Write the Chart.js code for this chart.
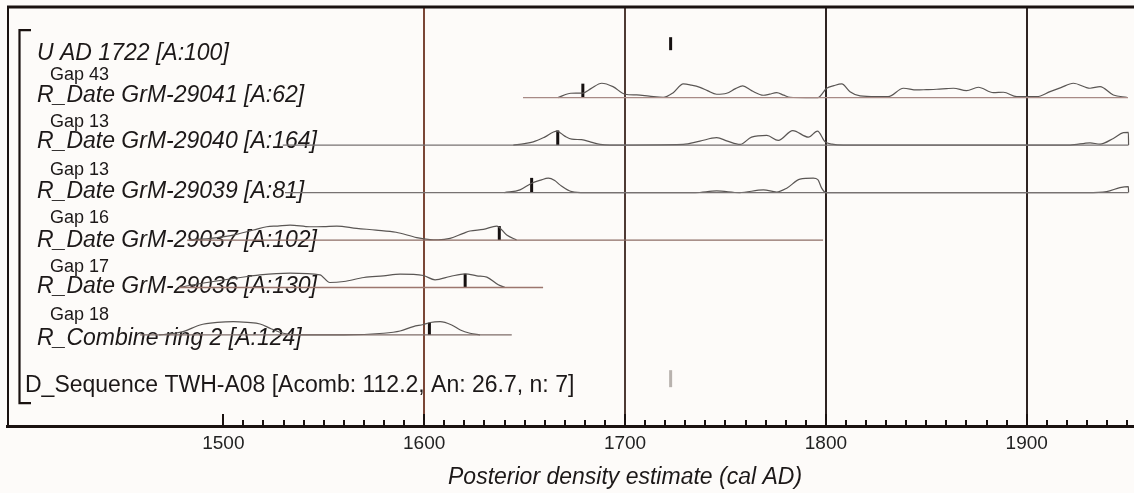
<!DOCTYPE html>
<html><head><meta charset="utf-8">
<script src="https://cdn.jsdelivr.net/npm/chart.js@4.4.1/dist/chart.umd.min.js"></script>
<style>html,body{margin:0;padding:0;background:#fdfbf9;}canvas{display:block;}</style>
</head><body>
<canvas id="c" width="1134" height="493"></canvas>
<script>
// ---------- data ----------
const rowLabels = ["U AD 1722 [A:100]", "R_Date GrM-29041 [A:62]", "R_Date GrM-29040 [A:164]",
  "R_Date GrM-29039 [A:81]", "R_Date GrM-29037 [A:102]", "R_Date GrM-29036 [A:130]",
  "R_Combine ring 2 [A:124]", "D_Sequence TWH-A08 [Acomb: 112.2, An: 26.7, n: 7]"];
const gapLabels = ["Gap 43", "Gap 13", "Gap 13", "Gap 16", "Gap 17", "Gap 18"];
const tickLabels = [1500, 1600, 1700, 1800, 1900];
const axisTitle = "Posterior density estimate (cal AD)";
const rowIndex = [0, 1, 2, 3, 4, 5, 6, 7.1];
const medianYears = [1722.7, 1679, 1666.5, 1653.5, 1637.4, 1620.4, 1602.6, 1722.7];
const markerHeights = [13, 14, 14.7, 14.7, 14, 13.7, 12.3, 17];
const rangeStart = [null, 1649.2, 1529.6, 1530.7, 1482, 1478, 1458.6, null];
const rangeEnd   = [null, 1950.4, 1950.6, 1950.6, 1798.6, 1659.2, 1643.6, null];

const years29041 = [1666.6,1673,1679,1683,1688.4,1694,1700,1705.8,1712,1719,1724,1729,1733,1737.3,1741,1745.6,1750.6,1755,1758.6,1763,1768.9,1772,1775.5,1779,1782.2,1790,1796,1800.4,1804,1807.9,1812,1817,1825,1831,1838.6,1845.2,1850,1855.2,1860,1863.5,1870,1875.9,1883.4,1888.4,1895,1905,1911.6,1917,1923.2,1931.5,1936.5,1943.1,1949.8];
const dens29041  = [0,4.4,4.6,9,14.4,11,3.4,2.7,1.5,0.3,5,13.7,12.5,10.3,7,3.4,4.4,9,11.7,7,2.4,3.5,5,2.5,0.4,0,0,9.4,12,13.7,6,1.7,1,1,9.4,7.7,8,8.4,9,9.4,7,10.4,5,5.4,1,1,6,10,14.4,9.4,11,2.7,0.3];
const years29040 = [1644.4,1650,1654.3,1660,1666,1670,1673.5,1678.4,1683,1687.6,1692.5,1729,1737.3,1745.6,1751,1757.3,1763,1770.6,1776.3,1783.5,1791.3,1795.8,1799.6,1803,1808.7,1921.6,1931.5,1936.5,1943.1,1948.1,1950.6,1950.7];
const dens29040  = [0,1.5,3.3,8,14,9,6,5.4,3,0.7,0,0.7,4,7.4,4,0.7,8,9.7,4.7,14.5,8,14,3.3,1,0,0,2.3,1,6.7,12.4,12.7,0];
const years29039 = [1640,1647.7,1653.5,1658,1661.8,1665,1667.6,1673.5,1680,1735,1745.6,1757,1768.9,1775.5,1780.5,1787.1,1793.7,1796,1797.9,1799.9,1930,1939.8,1946.4,1950.6,1950.7];
const dens29039  = [0,2.7,9.4,12.5,14.4,12,7.7,1,0,0,1.7,0,2.7,0.6,4.4,13.4,14.4,13,4.4,0,0,1,5,6,0];
const years29037 = [1483,1495,1505,1515,1521.6,1527,1533.2,1543.2,1550,1556.5,1566.4,1576,1586,1596.3,1602.9,1607,1612.9,1619.5,1622.8,1629.5,1636.1,1641.1,1646];
const dens29037  = [0,2,5,10,13.3,14,15,13.3,13.5,14,11.7,10,7.8,2.5,0.5,0.3,1.7,6.7,9,10.7,14,5,0];
const years29036 = [1478,1486,1495,1505,1512,1518.3,1533.2,1548.1,1553,1560,1570,1579.7,1588,1599.6,1605.4,1612.9,1620.4,1626.2,1631.2,1636.9,1640.3];
const dens29036  = [0,3,6,9,11,12.7,14.4,12.7,5,6,10,11.7,13.4,12,7.7,11,13.7,11.7,10.4,2.7,0];
const yearsRing2 = [1468,1475,1480,1488.4,1497,1505,1512,1518.3,1524,1529.9,1536,1560,1579.7,1588,1594.6,1599.6,1603,1607.9,1613.7,1618,1622.8,1627.8];
const densRing2  = [0,1.5,3.3,10,12.5,13.3,12.5,11,6,1.7,0,0,1.7,4,8.4,10.5,12.5,13.3,10,5,1.7,0];

const curves = [null, [years29041, dens29041], [years29040, dens29040], [years29039, dens29039],
  [years29037, dens29037], [years29036, dens29036], [yearsRing2, densRing2], null];

// ---------- styling / layout ----------
const ROW_PX = 47.46;          // pixels per row on the y scale
const FONT = '"Liberation Sans", Arial, sans-serif';
const baseColors = [null, '#a88a86', '#777272', '#777272', '#8c6c64', '#9c766e', '#7e6c68', null];
const labelDy = [9.8, 4, 3.2, 5.7, 6.7, 5.8, 10, 4.5];
const gapDy = [17.7, 18.4, 17.6, 16.7, 15.8, 15];
const gridColor = v => v === 1500 ? 'rgba(0,0,0,0)' : (v === 1600 ? '#7a4636' : (v === 1700 ? '#4e3a34' : '#2e2422'));
const toY = (r, h) => rowIndex[r] - h / ROW_PX;

const datasets = [];
for (let r = 0; r < rowLabels.length; r++) {
  if (rangeStart[r] !== null) {
    datasets.push({ data: [{x: rangeStart[r], y: toY(r, 0)}, {x: rangeEnd[r], y: toY(r, 0)}],
      borderColor: baseColors[r], borderWidth: 1.3 });
  }
  if (curves[r]) {
    const [ys, ds] = curves[r];
    datasets.push({ data: ys.map((x, i) => ({x, y: toY(r, ds[i])})),
      borderColor: '#5a5654', borderWidth: 1.2, cubicInterpolationMode: 'monotone' });
  }
  datasets.push({ data: [{x: medianYears[r], y: toY(r, 0)}, {x: medianYears[r], y: toY(r, markerHeights[r])}],
    borderColor: r === 7 ? '#b8b2ae' : '#151010', borderWidth: 3, borderCapStyle: 'butt' });
}
datasets.forEach(d => { d.showLine = true; d.pointRadius = 0; d.fill = false; d.clip = false; });

const bgPlugin = {
  id: 'bg',
  beforeDraw(chart) {
    const c = chart.ctx; c.save(); c.fillStyle = '#fdfbf9';
    c.fillRect(0, 0, chart.width, chart.height); c.restore();
  }
};

const textPlugin = {
  id: 'rowtext',
  beforeDatasetsDraw(chart) {
    const c = chart.ctx, ys = chart.scales.y;
    c.save(); c.fillStyle = '#1c1818'; c.textAlign = 'left'; c.textBaseline = 'alphabetic';
    rowLabels.forEach((t, i) => {
      c.font = (i < 7 ? 'italic ' : '') + '23px ' + FONT;
      c.fillText(t, i === 7 ? 25 : 37, ys.getPixelForValue(rowIndex[i]) + labelDy[i]);
    });
    c.font = '18px ' + FONT;
    gapLabels.forEach((t, i) => {
      c.fillText(t, 50, ys.getPixelForValue(rowIndex[i + 1]) - gapDy[i]);
    });
    c.restore();
  }
};

const framePlugin = {
  id: 'frame',
  afterDraw(chart) {
    const c = chart.ctx, a = chart.chartArea, xs = chart.scales.x, ys = chart.scales.y;
    c.save();
    c.strokeStyle = '#1a1210';
    c.lineWidth = 3; c.beginPath(); c.moveTo(a.left, a.top); c.lineTo(a.right, a.top); c.stroke();
    c.lineWidth = 2; c.beginPath(); c.moveTo(a.left + 1, a.top); c.lineTo(a.left + 1, a.bottom); c.stroke();
    const bt = ys.getPixelForValue(rowIndex[0]) - 20, bb = ys.getPixelForValue(rowIndex[7]) + 16;
    c.lineWidth = 2.2; c.beginPath();
    c.moveTo(31, bt); c.lineTo(19.5, bt); c.lineTo(19.5, bb); c.lineTo(31, bb); c.stroke();
    c.lineWidth = 2;
    for (let yr = 1500; yr <= 1950; yr += 10) {
      const px = Math.round(xs.getPixelForValue(yr));
      const len = yr % 100 === 0 ? 12 : 6;
      c.beginPath(); c.moveTo(px, a.bottom); c.lineTo(px, a.bottom - len); c.stroke();
    }
    c.fillStyle = '#1c1818'; c.font = 'italic 23px ' + FONT; c.textAlign = 'center'; c.textBaseline = 'alphabetic';
    c.fillText(axisTitle, xs.getPixelForValue(1700), 484);
    c.restore();
  }
};

new Chart(document.getElementById('c'), {
  type: 'scatter',
  data: { datasets },
  options: {
    responsive: false, animation: false, devicePixelRatio: 1,
    layout: { padding: { left: 7, top: 7, right: 0, bottom: 0 } },
    plugins: { legend: { display: false }, tooltip: { enabled: false } },
    scales: {
      x: {
        type: 'linear', min: 1392.3, max: 1953.4,
        afterBuildTicks: s => { s.ticks = tickLabels.map(v => ({ value: v })); },
        afterFit: s => { s.height = 67; },
        grid: { drawTicks: false, lineWidth: 2, color: ctx => gridColor(ctx.tick && ctx.tick.value) },
        border: { display: true, color: '#1a1210', width: 3 },
        ticks: { padding: 6, color: '#222', autoSkip: false, maxRotation: 0,
          font: { family: FONT, size: 19 }, callback: v => String(v) }
      },
      y: { display: false, reverse: true, min: -0.910, max: 7.918 }
    }
  },
  plugins: [bgPlugin, textPlugin, framePlugin]
});
</script>
</body></html>
